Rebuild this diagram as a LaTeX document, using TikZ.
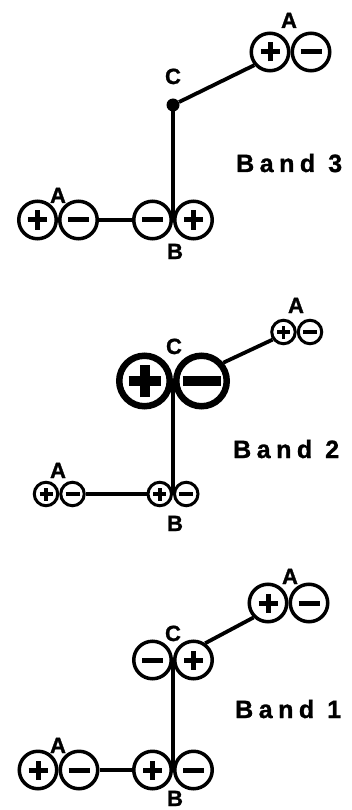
\documentclass[tikz,border=0pt]{standalone}
\usepackage{fontspec}
\setmainfont{Liberation Sans}[BoldFeatures={FakeBold=1.2}]
\newfontfamily\bandfont{Liberation Sans}[LetterSpace=22,BoldFeatures={FakeBold=1.2}]
\tikzset{
  plussign/.style 2 args={path picture={\draw[line width=#2,line cap=butt]
      ([xshift=-#1]path picture bounding box.center) -- ([xshift=#1]path picture bounding box.center)
      ([yshift=-#1]path picture bounding box.center) -- ([yshift=#1]path picture bounding box.center);}},
  minussign/.style 2 args={path picture={\draw[line width=#2,line cap=butt]
      ([xshift=-#1]path picture bounding box.center) -- ([xshift=#1]path picture bounding box.center);}},
  chg/.style={circle, draw, line width=3.5pt, minimum size=37.5pt, inner sep=0pt},
  chgs/.style={circle, draw, line width=3pt, minimum size=23.5pt, inner sep=0pt},
  chgb/.style={circle, draw, line width=6.5pt, minimum size=50.5pt, inner sep=0pt},
  P/.style={chg, plussign={9.5pt}{5pt}},
  M/.style={chg, minussign={10.5pt}{5pt}},
  Ps/.style={chgs, plussign={6.5pt}{3.5pt}},
  Ms/.style={chgs, minussign={7pt}{3.5pt}},
  Pb/.style={chgb, plussign={16pt}{10pt}},
  Mb/.style={chgb, minussign={19pt}{10pt}},
  conn/.style={line width=3.8pt},
  lab/.style={font=\fontsize{22}{22}\selectfont\bfseries, inner sep=0pt, anchor=base},
  bandlab/.style={font=\bandfont\fontsize{25}{25}\selectfont\bfseries, inner sep=0pt, anchor=base west},
}
\begin{document}
\begin{tikzpicture}[x=1pt,y=-1pt]
\fill[white] (0,0) rectangle (352,810);
\useasboundingbox (0,0) rectangle (352,810);

% ---------- Band 3 ----------
\node[P] (b3Ap) at (270,52) {};
\node[M] (b3Am) at (311,52) {};
\node[lab] (b3lA) at (289,28) {A};
\node[circle, fill, minimum size=13pt, inner sep=0pt] (b3C) at (173,105) {};
\node[lab] (b3lC) at (173,84) {C};
\node[P] (b3Lp) at (37.5,220) {};
\node[M] (b3Lm) at (78.5,220) {};
\node[lab] (b3lA2) at (58,203) {A};
\node[M] (b3Bm) at (152.5,220) {};
\node[P] (b3Bp) at (193.5,220) {};
\node[lab] (b3lB) at (175,259) {B};
\node[bandlab] (b3t) at (236,172) {Band\hspace{13pt}3};
\draw[conn] (b3C) -- (b3Ap.220);
\draw[line width=3.3pt] (b3C.center) -- (b3Bm.east);
\draw[conn] (b3Lm) -- (b3Bm);

% ---------- Band 2 ----------
\node[Ps] (b2Ap) at (283.5,332) {};
\node[Ms] (b2Am) at (310,332) {};
\node[lab] (b2lA) at (296,313) {A};
\node[Pb] (b2Cp) at (144.5,381) {};
\node[Mb] (b2Cm) at (201.5,381) {};
\node[lab] (b2lC) at (174,354) {C};
\node[Ps] (b2Lp) at (46,494) {};
\node[Ms] (b2Lm) at (72.5,494) {};
\node[lab] (b2lA2) at (58,478) {A};
\node[Ps] (b2Bp) at (159.75,494) {};
\node[Ms] (b2Bm) at (186.25,494) {};
\node[lab] (b2lB) at (175,531) {B};
\node[bandlab] (b2t) at (233,458) {Band\hspace{13pt}2};
\draw[conn] (b2Cm.40) -- (b2Ap.215);
\draw[line width=3.3pt] (b2Cp.east) -- (b2Bp.east);
\draw[conn] (b2Lm) -- (b2Bp);

% ---------- Band 1 ----------
\node[P] (b1Ap) at (268,603) {};
\node[M] (b1Am) at (309,603) {};
\node[lab] (b1lA) at (290,584) {A};
\node[M] (b1Cm) at (152.5,660) {};
\node[P] (b1Cp) at (193.5,660) {};
\node[lab] (b1lC) at (173,641) {C};
\node[P] (b1Lp) at (38,770) {};
\node[M] (b1Lm) at (79,770) {};
\node[lab] (b1lA2) at (58,753) {A};
\node[P] (b1Bp) at (152.5,770) {};
\node[M] (b1Bm) at (193.5,770) {};
\node[lab] (b1lB) at (175,806) {B};
\node[bandlab] (b1t) at (235,718) {Band\hspace{13pt}1};
\draw[conn] (b1Cp.55) -- (b1Ap.225);
\draw[line width=3.3pt] (b1Cm.east) -- (b1Bp.east);
\draw[conn] (b1Lm) -- (b1Bp);
\end{tikzpicture}
\end{document}
